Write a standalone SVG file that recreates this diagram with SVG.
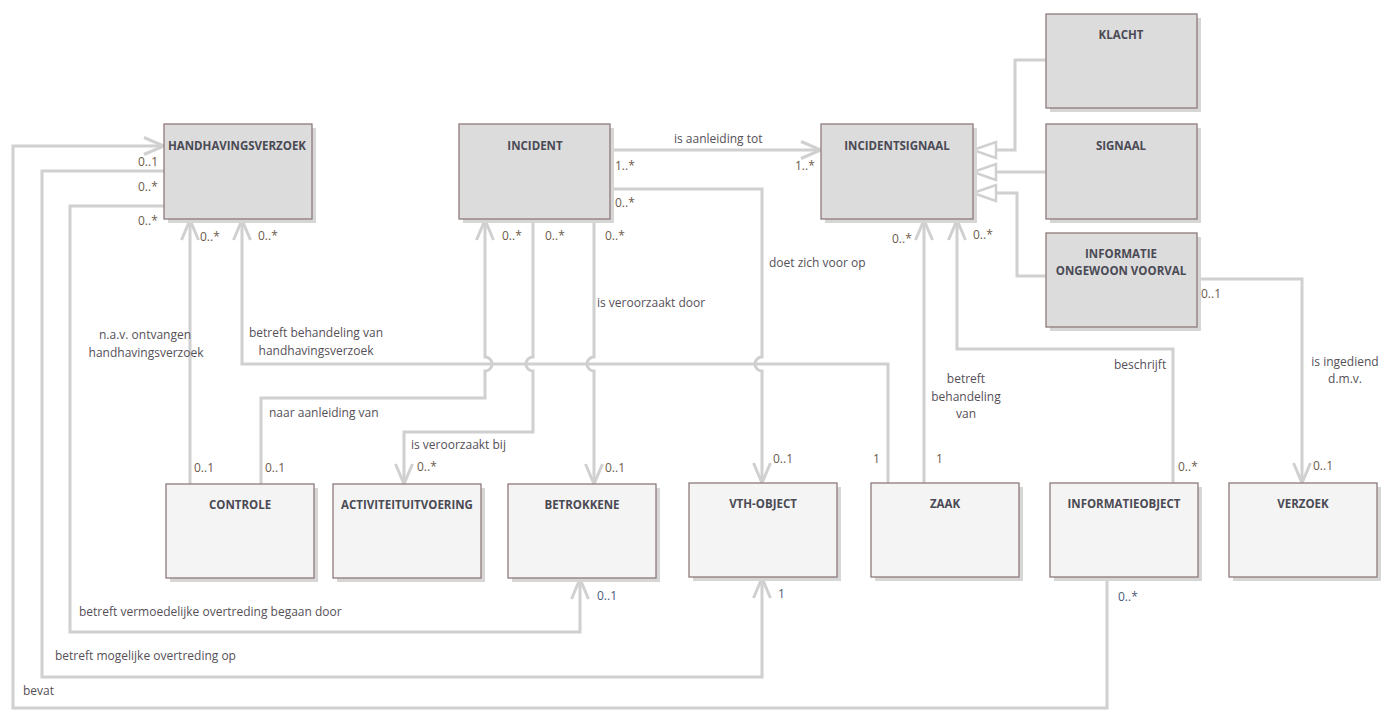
<svg xmlns="http://www.w3.org/2000/svg" width="1394" height="724" viewBox="0 0 1394 724">
<style>
.b{fill:#dcdcdc;stroke:#8e7a7a;stroke-width:1.3}
.l{fill:#f4f4f4;stroke:#8e7a7a;stroke-width:1.3}
.sh{fill:#d6d6d6}
.t{font-family:"Open Sans","Liberation Sans",sans-serif;font-weight:bold;font-size:11.5px;fill:#4a4a55;text-anchor:middle}
.c{fill:none;stroke:#d0d0d0;stroke-width:3}
.lb{font-family:"Open Sans","Liberation Sans",sans-serif;font-size:12px;fill:#555058}
.m{font-family:"Open Sans","Liberation Sans",sans-serif;font-size:12px;fill:#6b5a4a}
.mb{font-family:"Open Sans","Liberation Sans",sans-serif;font-size:12px;fill:#4a5a78}
.ctr{text-anchor:middle}
</style>
<defs>
<marker id="a" markerUnits="userSpaceOnUse" viewBox="0 0 24 20" markerWidth="24" markerHeight="20" refX="21" refY="10" orient="auto">
<path d="M1 1.5 L21 10 L1 18.5" fill="none" stroke="#d0d0d0" stroke-width="3"/>
</marker>
<marker id="g" markerUnits="userSpaceOnUse" viewBox="0 0 28 22" markerWidth="28" markerHeight="22" refX="25" refY="11" orient="auto">
<path d="M2 3 L25 11 L2 19 Z" fill="#ffffff" stroke="#d0d0d0" stroke-width="2.5"/>
</marker>
</defs>
<rect width="1394" height="724" fill="#ffffff"/>

<g id="connectors">
<path class="c" d="M1046 60 H1015 V150 H973" marker-end="url(#g)"/>
<path class="c" d="M1046 172 H973" marker-end="url(#g)"/>
<path class="c" d="M1046 276 H1017 V193 H973" marker-end="url(#g)"/>
<path class="c" d="M1107 578 V708 H13 V146 H164" marker-end="url(#a)"/>
<path class="c" d="M164 171 H42 V677 H762 V578" marker-end="url(#a)"/>
<path class="c" d="M164 206 H70 V632 H580 V579" marker-end="url(#a)"/>
<path class="c" d="M190 484 V220" marker-end="url(#a)"/>
<path class="c" d="M888 483 V364 H242 V220" marker-end="url(#a)"/>
<path class="c" d="M261 484 V398 H485 V371 A7 7 0 0 0 485 357 V220" marker-end="url(#a)"/>
<path class="c" d="M533 219 V357 A7 7 0 0 0 533 371 V432 H404 V484" marker-end="url(#a)"/>
<path class="c" d="M594 219 V357 A7 7 0 0 0 594 371 V484" marker-end="url(#a)"/>
<path class="c" d="M611 189 H762 V357 A7 7 0 0 0 762 371 V483" marker-end="url(#a)"/>
<path class="c" d="M611 150 H821" marker-end="url(#a)"/>
<path class="c" d="M924 483 V220" marker-end="url(#a)"/>
<path class="c" d="M1173 483 V349 H957 V220" marker-end="url(#a)"/>
<path class="c" d="M1197 279 H1302 V483" marker-end="url(#a)"/>
</g>

<g id="n-handhavingsverzoek"><rect class="sh" x="168" y="128" width="148" height="95"/><rect class="b" x="164" y="124" width="148" height="95"/><text class="t" x="237" y="150">HANDHAVINGSVERZOEK</text></g>
<g id="n-incident"><rect class="sh" x="463" y="128" width="151" height="95"/><rect class="b" x="459" y="124" width="151" height="95"/><text class="t" x="535" y="150">INCIDENT</text></g>
<g id="n-incidentsignaal"><rect class="sh" x="825" y="128" width="152" height="95"/><rect class="b" x="821" y="124" width="152" height="95"/><text class="t" x="897" y="150">INCIDENTSIGNAAL</text></g>
<g id="n-klacht"><rect class="sh" x="1050" y="18" width="151" height="94"/><rect class="b" x="1046" y="14" width="151" height="94"/><text class="t" x="1121" y="39">KLACHT</text></g>
<g id="n-signaal"><rect class="sh" x="1050" y="128" width="151" height="95"/><rect class="b" x="1046" y="124" width="151" height="95"/><text class="t" x="1121" y="150">SIGNAAL</text></g>
<g id="n-informatie-ongewoon-voorval"><rect class="sh" x="1050" y="237" width="151" height="94"/><rect class="b" x="1046" y="233" width="151" height="94"/><text class="t" x="1121" y="258">INFORMATIE</text><text class="t" x="1121" y="275">ONGEWOON VOORVAL</text></g>

<g id="n-controle"><rect class="sh" x="170" y="488" width="148" height="94"/><rect class="l" x="166" y="484" width="148" height="94"/><text class="t" x="240" y="509">CONTROLE</text></g>
<g id="n-activiteituitvoering"><rect class="sh" x="337" y="488" width="148" height="94"/><rect class="l" x="333" y="484" width="148" height="94"/><text class="t" x="407" y="509">ACTIVITEITUITVOERING</text></g>
<g id="n-betrokkene"><rect class="sh" x="512" y="488" width="148" height="94"/><rect class="l" x="508" y="484" width="148" height="94"/><text class="t" x="582" y="509">BETROKKENE</text></g>
<g id="n-vth-object"><rect class="sh" x="693" y="487" width="148" height="94"/><rect class="l" x="689" y="483" width="148" height="94"/><text class="t" x="763" y="508">VTH-OBJECT</text></g>
<g id="n-zaak"><rect class="sh" x="875" y="487" width="148" height="94"/><rect class="l" x="871" y="483" width="148" height="94"/><text class="t" x="945" y="508">ZAAK</text></g>
<g id="n-informatieobject"><rect class="sh" x="1054" y="487" width="148" height="94"/><rect class="l" x="1050" y="483" width="148" height="94"/><text class="t" x="1124" y="508">INFORMATIEOBJECT</text></g>
<g id="n-verzoek"><rect class="sh" x="1233" y="487" width="148" height="94"/><rect class="l" x="1229" y="483" width="148" height="94"/><text class="t" x="1303" y="508">VERZOEK</text></g>

<g id="labels">
<text class="m" x="138" y="166">0..1</text>
<text class="m" x="138" y="191">0..*</text>
<text class="m" x="138" y="225">0..*</text>
<text class="m" x="200" y="241">0..*</text>
<text class="m" x="258" y="240">0..*</text>
<text class="lb ctr" x="145" y="339">n.a.v. ontvangen</text>
<text class="lb ctr" x="146" y="357">handhavingsverzoek</text>
<text class="lb ctr" x="316" y="337">betreft behandeling van</text>
<text class="lb ctr" x="316" y="355">handhavingsverzoek</text>
<text class="m" x="194" y="472">0..1</text>
<text class="m" x="265" y="472">0..1</text>
<text class="lb" x="269" y="417">naar aanleiding van</text>
<text class="lb" x="411" y="449">is veroorzaakt bij</text>
<text class="m" x="417" y="471">0..*</text>
<text class="m" x="502" y="240">0..*</text>
<text class="m" x="545" y="240">0..*</text>
<text class="m" x="605" y="240">0..*</text>
<text class="lb" x="597" y="307">is veroorzaakt door</text>
<text class="m" x="605" y="472">0..1</text>
<text class="m" x="615" y="170">1..*</text>
<text class="m" x="615" y="207">0..*</text>
<text class="lb" x="674" y="143">is aanleiding tot</text>
<text class="m" x="795" y="170">1..*</text>
<text class="lb" x="769" y="267">doet zich voor op</text>
<text class="m" x="773" y="463">0..1</text>
<text class="m" x="892" y="243">0..*</text>
<text class="m" x="973" y="239">0..*</text>
<text class="lb ctr" x="966" y="383">betreft</text>
<text class="lb ctr" x="966" y="401">behandeling</text>
<text class="lb ctr" x="966" y="418">van</text>
<text class="m" x="873" y="463">1</text>
<text class="m" x="936" y="463">1</text>
<text class="lb" x="1114" y="369">beschrijft</text>
<text class="m" x="1178" y="471">0..*</text>
<text class="m" x="1201" y="298">0..1</text>
<text class="lb ctr" x="1345" y="366">is ingediend</text>
<text class="lb ctr" x="1345" y="383">d.m.v.</text>
<text class="m" x="1313" y="470">0..1</text>
<text class="mb" x="597" y="600">0..1</text>
<text class="mb" x="778" y="598">1</text>
<text class="mb" x="1118" y="601">0..*</text>
<text class="lb" x="79" y="616">betreft vermoedelijke overtreding begaan door</text>
<text class="lb" x="55" y="660">betreft mogelijke overtreding op</text>
<text class="lb" x="23" y="695">bevat</text>
</g>
</svg>
